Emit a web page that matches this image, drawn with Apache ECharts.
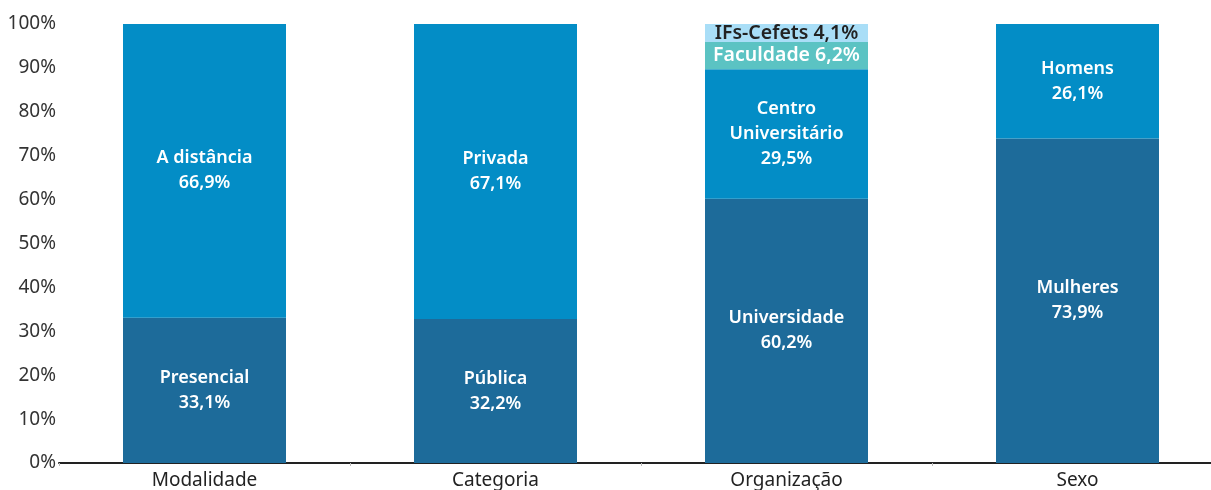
<!DOCTYPE html>
<html>
<head>
<meta charset="utf-8">
<script src="https://cdn.jsdelivr.net/npm/echarts@6/dist/echarts.min.js"></script>
<style>
  html, body { margin: 0; padding: 0; background: #fff; }
  #main { width: 1211px; height: 490px; }
</style>
</head>
<body>
<div id="main"></div>
<script>
const categories = ["Modalidade", "Categoria", "Organização", "Sexo"];

// stacked segments, bottom to top (heights as drawn, labels as printed)
const bottomNames = ["Presencial", "Pública", "Universidade", "Mulheres"];
const bottomValues = [33.1, 32.8, 60.2, 73.9];
const bottomLabels = ["33,1%", "32,2%", "60,2%", "73,9%"];
const secondNames = ["A distância", "Privada", "Centro\nUniversitário", "Homens"];
const secondValues = [66.9, 67.2, 29.5, 26.1];
const secondLabels = ["66,9%", "67,1%", "29,5%", "26,1%"];
const facultyValues = [null, null, 6.2, null];
const ifsValues = [null, null, 4.1, null];

const yTicks = [0, 10, 20, 30, 40, 50, 60, 70, 80, 90, 100];

const fmt = (v) => v.toFixed(1).replace(".", ",") + "%";

const chartDom = document.getElementById("main");
const myChart = echarts.init(chartDom);

const labelFont = {
  fontFamily: "Noto Sans",
  fontWeight: 600,
  fontSize: 18,
  lineHeight: 25,
};

const option = {
  animation: false,
  grid: { left: 59, width: 1164, top: 24, bottom: 27, outerBoundsMode: "none", containLabel: false },
  xAxis: {
    type: "category",
    data: categories,
    axisLine: { lineStyle: { color: "#222", width: 2 } },
    axisTick: { show: true, length: 3, lineStyle: { color: "#bbb" } },
    axisLabel: { color: "#222", fontFamily: "Noto Sans", fontSize: 19, margin: 8 },
  },
  yAxis: {
    type: "value",
    min: 0,
    max: 100,
    interval: 10,
    axisLine: { show: false },
    axisTick: { show: false },
    splitLine: { show: false },
    axisLabel: {
      color: "#333",
      fontFamily: "Noto Sans",
      fontSize: 19,
      margin: 3,
      formatter: (v) => (yTicks.includes(v) ? v + "%" : ""),
    },
  },
  series: [
    {
      name: "base",
      type: "bar",
      stack: "total",
      barWidth: 163,
      data: bottomValues,
      itemStyle: { color: "#1d6b9a" },
      label: {
        show: true,
        position: "inside",
        color: "#fff",
        ...labelFont,
        formatter: (p) => bottomNames[p.dataIndex] + "\n" + bottomLabels[p.dataIndex],
      },
    },
    {
      name: "second",
      type: "bar",
      stack: "total",
      data: secondValues,
      itemStyle: { color: "#038dc6" },
      label: {
        show: true,
        position: "inside",
        color: "#fff",
        ...labelFont,
        formatter: (p) => secondNames[p.dataIndex] + "\n" + secondLabels[p.dataIndex],
      },
    },
    {
      name: "Faculdade",
      type: "bar",
      stack: "total",
      data: facultyValues,
      itemStyle: { color: "#5bc3c3" },
      label: {
        show: true,
        position: "inside",
        color: "#fff",
        ...labelFont,
        fontSize: 19.5,
        formatter: (p) => "Faculdade " + fmt(p.value),
      },
    },
    {
      name: "IFs-Cefets",
      type: "bar",
      stack: "total",
      data: ifsValues,
      itemStyle: { color: "#a9def7" },
      label: {
        show: true,
        position: "inside",
        color: "#222",
        ...labelFont,
        fontSize: 19.5,
        formatter: (p) => "IFs-Cefets " + fmt(p.value),
      },
    },
  ],
};

myChart.setOption(option);
</script>
</body>
</html>
